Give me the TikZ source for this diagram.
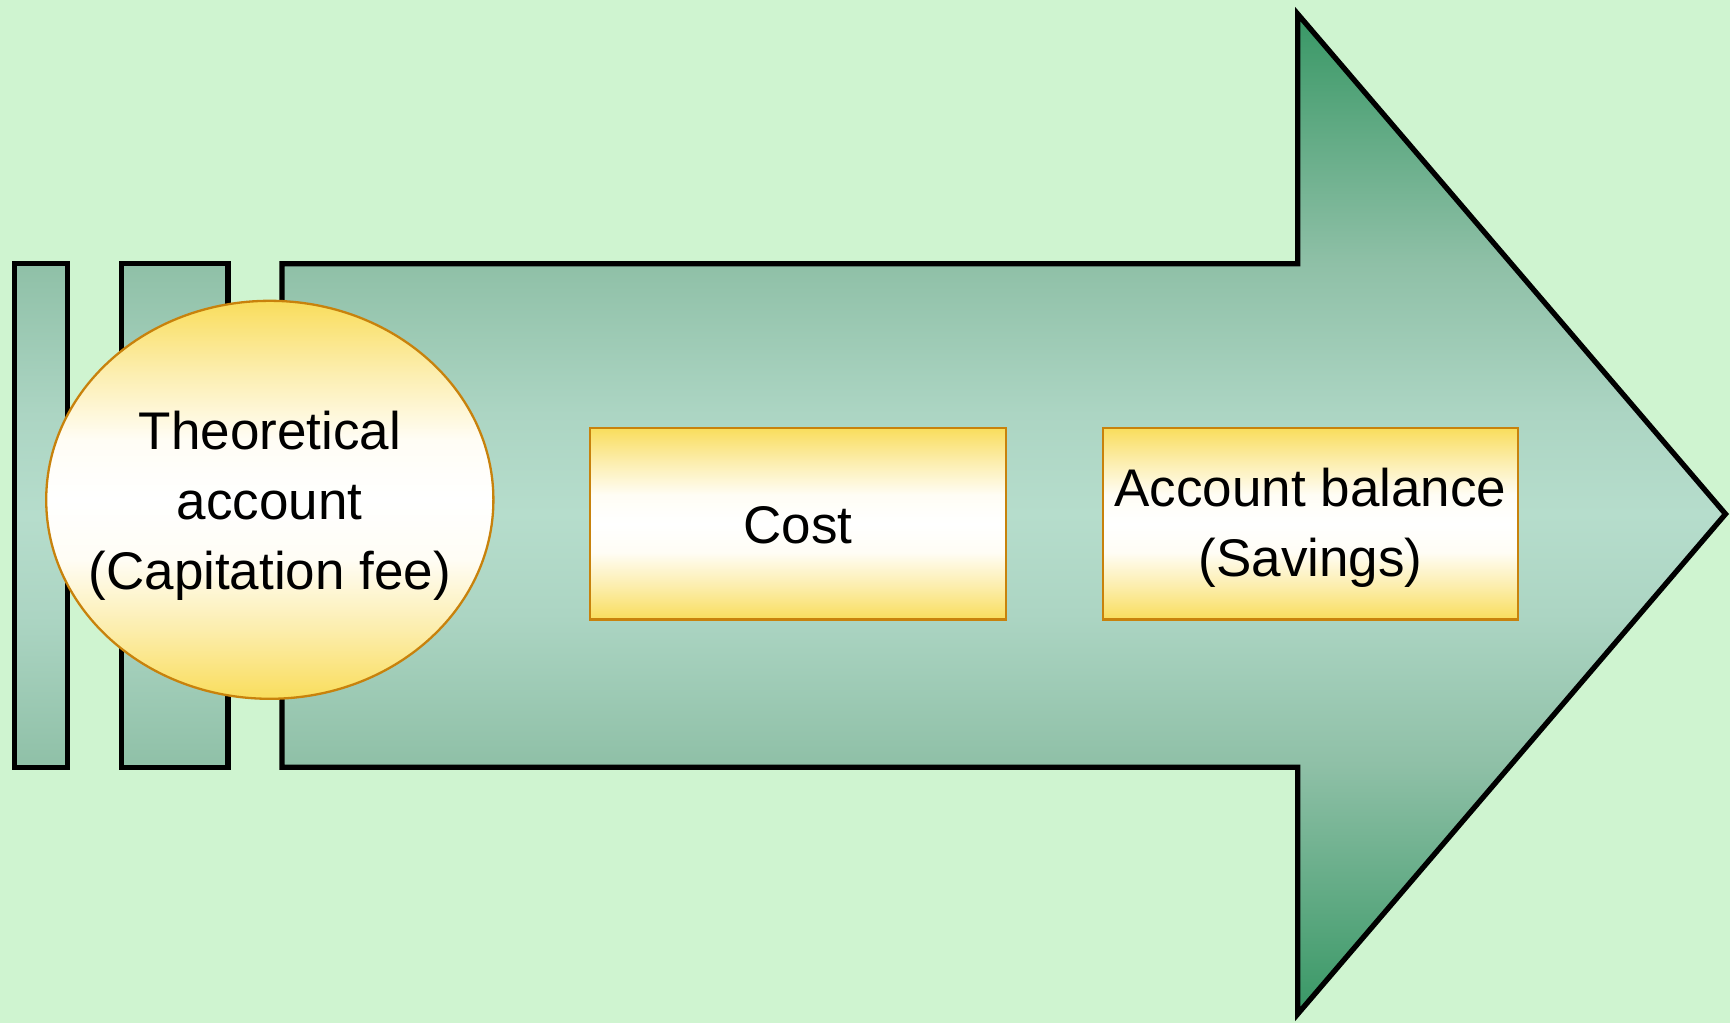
\documentclass[tikz,border=0pt]{standalone}
\usepackage{fontspec}
\setmainfont{Liberation Sans}
\usetikzlibrary{shapes.geometric}
\definecolor{bg}{RGB}{207,244,208}
\definecolor{ga}{RGB}{56,151,101}
\definecolor{gb}{RGB}{143,192,167}
\definecolor{gc}{RGB}{172,213,195}
\definecolor{gd}{RGB}{182,221,204}
\definecolor{ya}{RGB}{249,221,92}
\definecolor{yb}{RGB}{252,238,175}
\definecolor{yc}{RGB}{255,253,245}
\definecolor{edgeor}{RGB}{200,130,12}
\pgfdeclareverticalshading{arrowshade}{100bp}{color(0bp)=(ga); color(25bp)=(ga); color(37.5bp)=(gb); color(45bp)=(gc); color(50bp)=(gd); color(55bp)=(gc); color(62.5bp)=(gb); color(75bp)=(ga); color(100bp)=(ga)}
\pgfdeclareverticalshading{barshade}{100bp}{color(0bp)=(gb); color(25bp)=(gb); color(40bp)=(gc); color(50bp)=(gd); color(60bp)=(gc); color(75bp)=(gb); color(100bp)=(gb)}
\pgfdeclareverticalshading{goldshade}{100bp}{color(0bp)=(ya); color(25bp)=(ya); color(34bp)=(yb); color(42.5bp)=(yc); color(50bp)=(white); color(57.5bp)=(yc); color(66bp)=(yb); color(75bp)=(ya); color(100bp)=(ya)}
\begin{document}
\begin{tikzpicture}[x=0.5pt,y=-0.5pt,
  blackline/.style={draw=black,line width=2.65pt},
  goldbox/.style={draw=edgeor,line width=1.15pt,shading=goldshade,inner sep=0pt},
  label text/.style={font=\fontsize{26.5pt}{35pt}\selectfont,align=center,inner sep=0pt}]
\fill[bg] (0,0) rectangle (1730,1023);
\useasboundingbox (0,0) rectangle (1730,1023);
\path[blackline,shading=barshade] (14.2,263.7) rectangle (67.3,767.3);
\path[blackline,shading=barshade] (121.3,263.7) rectangle (228.1,767.3);
\path[blackline,shading=arrowshade] (282,263.7) -- (1297.7,263.7) -- (1297.7,14) -- (1725.5,514) -- (1297.7,1014) -- (1297.7,767.3) -- (282,767.3) -- cycle;
\node[goldbox,ellipse,minimum width=223.6pt,minimum height=199pt] (theo) at (269.8,499.8) {};
\node[label text] (theotext) at (269.8,505.3) {Theoretical\\account\\(Capitation fee)};
\node[goldbox,rectangle,minimum width=207.8pt,minimum height=95.8pt] (cost) at (798,523.7) {};
\node[label text] (costtext) at (798,525) {Cost};
\node[goldbox,rectangle,minimum width=207.8pt,minimum height=95.8pt] (bal) at (1310.5,523.7) {};
\node[label text] (baltext) at (1310.5,528.1) {Account balance\\(Savings)};
\end{tikzpicture}
\end{document}
